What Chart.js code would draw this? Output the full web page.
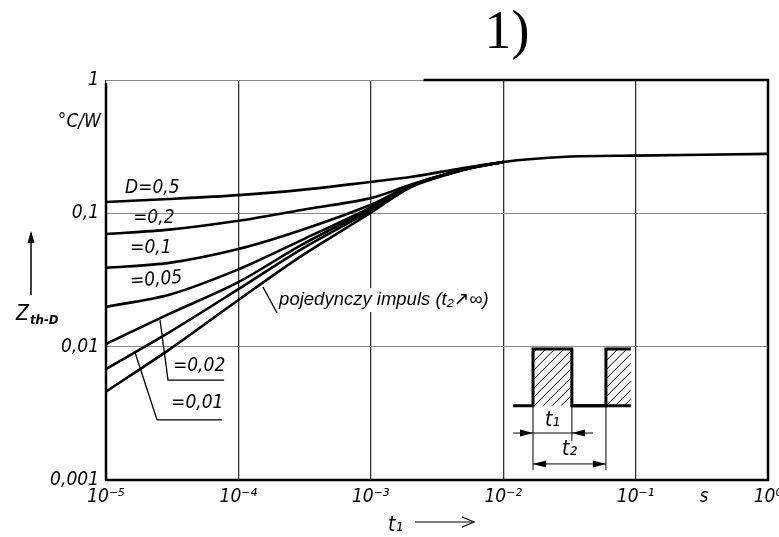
<!DOCTYPE html>
<html>
<head>
<meta charset="utf-8">
<script src="https://cdn.jsdelivr.net/npm/chart.js@4"></script>
<style>
  html, body { margin: 0; padding: 0; background: #fff; }
  #wrap { width: 779px; height: 537px; }
</style>
</head>
<body>
<div id="wrap"><canvas id="zthChart" width="779" height="537"></canvas></div>
<script>
// Czasy impulsu t1 [s]
var tPoints = [1e-5, 3e-5, 1e-4, 3e-4, 1e-3, 2e-3, 5e-3, 1e-2, 3e-2, 1e-1, 1]

// Zth-D [°C/W]
var zSingle = [0.0046, 0.0095, 0.0224, 0.048, 0.101, 0.157, 0.211, 0.243, 0.266, 0.271, 0.279]
var zD001 = [0.0068, 0.0128, 0.027, 0.054, 0.105, 0.159, 0.212, 0.243]
var zD002 = [0.0105, 0.0176, 0.0305, 0.058, 0.108, 0.160, 0.212, 0.243]
var zD005 = [0.0199, 0.0245, 0.038, 0.063, 0.111, 0.161, 0.213, 0.243]
var zD01 = [0.039, 0.0425, 0.054, 0.075, 0.116, 0.162, 0.213, 0.243]
var zD02 = [0.070, 0.0755, 0.088, 0.106, 0.130, 0.164, 0.214, 0.243]
var zD05 = [0.1216, 0.128, 0.137, 0.150, 0.172, 0.187, 0.219, 0.243]

var xTicks = [1e-5, 1e-4, 1e-3, 1e-2, 1e-1, 1]
var xTickLabels = ['10⁻⁵', '10⁻⁴', '10⁻³', '10⁻²', '10⁻¹', '10⁰']
var yTicks = [0.001, 0.01, 0.1, 1]
var yTickLabels = ['0,001', '0,01', '0,1', '1']

var curves = [zSingle, zD001, zD002, zD005, zD01, zD02, zD05]

function toPoints(vals){
  return vals.map((v, i) => ({x: tPoints[i], y: v}))
}

var tickFont = {family: '"DejaVu Sans Condensed", "Liberation Sans Narrow", sans-serif', size: 19, style: 'italic'}
var noteFont = 'italic 19px "DejaVu Sans Condensed", "Liberation Sans Narrow", sans-serif'

function arrowHead(ctx, x, y, dx, dy, len, wid){
  ctx.beginPath()
  ctx.moveTo(x, y)
  ctx.lineTo(x - dx*len - dy*wid, y - dy*len + dx*wid)
  ctx.lineTo(x - dx*len + dy*wid, y - dy*len - dx*wid)
  ctx.closePath()
  ctx.fill()
}

function line(ctx, pts){
  ctx.beginPath()
  ctx.moveTo(pts[0][0], pts[0][1])
  for (var i = 1; i < pts.length; i++) ctx.lineTo(pts[i][0], pts[i][1])
  ctx.stroke()
}

var decorPlugin = {
  id: 'decor',
  afterDatasetsDraw(chart){
    var ctx = chart.ctx
    var xs = chart.scales.x, ys = chart.scales.y
    var ca = chart.chartArea
    var X = v => xs.getPixelForValue(v)
    var Y = v => ys.getPixelForValue(v)
    ctx.save()
    ctx.strokeStyle = '#000'
    ctx.fillStyle = '#000'

    // Ramka
    ctx.lineWidth = 2.5
    line(ctx, [[ca.left, ca.top + 3], [ca.left, ca.bottom], [ca.right, ca.bottom], [ca.right, ca.top], [X(2.5e-3), ca.top]])

    // Opisy krzywych
    ctx.font = noteFont
    ctx.textBaseline = 'middle'
    ctx.textAlign = 'left'
    ctx.fillText('D=0,5', X(1.39e-5), Y(0.155))
    ctx.fillText('=0,2', X(1.6e-5), Y(0.092))
    ctx.fillText('=0,1', X(1.52e-5), Y(0.055))
    ctx.save()
    ctx.translate(X(1.52e-5), Y(0.0306))
    ctx.rotate(-0.08)
    ctx.fillText('=0,05', 0, 0)
    ctx.restore()
    ctx.fillText('=0,02', X(3.2e-5), Y(0.0072))
    ctx.fillText('=0,01', X(3.1e-5), Y(0.0038))

    ctx.lineWidth = 1.3
    line(ctx, [[X(2.56e-5), Y(0.0158)], [X(2.94e-5), Y(0.00562)], [X(7.8e-5), Y(0.00562)]])
    line(ctx, [[X(1.66e-5), Y(0.009)], [X(2.43e-5), Y(0.00282)], [X(7.5e-5), Y(0.00282)]])
    line(ctx, [[X(1.53e-4), Y(0.0281)], [X(1.96e-4), Y(0.0179)]])

    // pojedynczy impuls
    ctx.font = 'italic 18.5px "Liberation Sans", "DejaVu Sans", sans-serif'
    var txt = 'pojedynczy impuls (t₂↗∞)'
    var w = ctx.measureText(txt).width
    ctx.fillStyle = '#fff'
    ctx.fillRect(X(2.03e-4) - 2, Y(0.0224) - 12, w + 4, 24)
    ctx.fillStyle = '#000'
    ctx.fillText(txt, X(2.03e-4), Y(0.0224))

    // Wstawka z impulsami
    var base = Y(0.0036), top = Y(0.0096)
    var p1a = X(0.0168), p1b = X(0.033), p2a = X(0.0597), p2b = X(0.092)
    ctx.save()
    ctx.beginPath()
    ctx.rect(p1a, top, p1b - p1a, base - top)
    ctx.rect(p2a, top, p2b - p2a, base - top)
    ctx.clip()
    ctx.lineWidth = 1
    for (var i = -80; i < 160; i += 9){
      line(ctx, [[p1a + i, base], [p1a + i + (base - top), top]])
    }
    ctx.restore()
    ctx.lineWidth = 3
    line(ctx, [[X(0.0119), base], [p1a, base], [p1a, top], [p1b, top], [p1b, base], [p2a, base], [p2a, top], [p2b, top]])
    line(ctx, [[p1b, base], [p2b, base]])

    ctx.lineWidth = 1
    var d1 = Y(0.00225), d2 = Y(0.00132)
    line(ctx, [[p1a, base], [p1a, d2 + 6]])
    line(ctx, [[p1b, base], [p1b, d1 + 8]])
    line(ctx, [[p2a, base], [p2a, d2 + 6]])
    line(ctx, [[X(0.0119), d1], [X(0.0477), d1]])
    line(ctx, [[p1a, d2], [p2a, d2]])
    arrowHead(ctx, p1a, d1, 1, 0, 13, 3.5)
    arrowHead(ctx, p1b, d1, -1, 0, 13, 3.5)
    arrowHead(ctx, p1a, d2, -1, 0, 13, 3.5)
    arrowHead(ctx, p2a, d2, 1, 0, 13, 3.5)
    ctx.font = 'italic 21px "DejaVu Sans Condensed", sans-serif'
    ctx.textAlign = 'center'
    ctx.fillText('t₁', (p1a + p1b)/2, (base + d1)/2 + 1)
    ctx.fillText('t₂', (p1a + p2a)/2, (d1 + d2)/2 + 1)

    // Jednostka osi Y
    ctx.font = noteFont
    ctx.textAlign = 'right'
    ctx.fillText('°C/W', ca.left - 5, Y(0.485))

    // Oś Y: Zth-D ze strzałką
    ctx.textAlign = 'left'
    ctx.font = 'italic 21px "DejaVu Sans Condensed", sans-serif'
    ctx.fillText('Z', 16, Y(0.0173))
    ctx.font = 'italic bold 13px "DejaVu Sans Condensed", sans-serif'
    ctx.fillText('th-D', 30, Y(0.0173) + 6)
    ctx.lineWidth = 1.5
    line(ctx, [[31, Y(0.0244)], [31, Y(0.0713)]])
    arrowHead(ctx, 31, Y(0.0713) - 2, 0, -1, 12, 3.5)

    // Oś X: s, t1 ->
    ctx.font = noteFont
    ctx.textAlign = 'center'
    ctx.fillText('s', X(0.329), ca.bottom + 17)
    ctx.textAlign = 'left'
    ctx.font = 'italic 21px "DejaVu Sans Condensed", sans-serif'
    var tx = X(1.35e-3)
    ctx.fillText('t₁', tx, ca.bottom + 46)
    ctx.lineWidth = 1.2
    line(ctx, [[tx + 27, ca.bottom + 42], [tx + 86, ca.bottom + 42]])
    line(ctx, [[tx + 74, ca.bottom + 37], [tx + 86, ca.bottom + 42], [tx + 74, ca.bottom + 47]])

    // Tytuł
    ctx.font = '54px "Liberation Serif", "DejaVu Serif", serif'
    ctx.textAlign = 'center'
    ctx.fillText('1)', X(0.0107), 34)
    ctx.restore()
  }
}

var datasets = curves.map((c) => ({
  data: toPoints(c),
  borderColor: '#000',
  borderWidth: 2.6,
  pointRadius: 0,
  fill: false,
  tension: 0.3
}))

var zthChart = new Chart(document.getElementById('zthChart'), {
  type: 'line',
  data: { datasets: datasets },
  options: {
    responsive: false,
    animation: false,
    layout: { padding: { top: 80, right: 11, left: 0, bottom: 0 } },
    plugins: {
      legend: { display: false },
      tooltip: { enabled: false },
      title: { display: false }
    },
    scales: {
      x: {
        type: 'logarithmic',
        min: 1e-5,
        max: 1,
        afterBuildTicks: (s) => { s.ticks = xTicks.map(v => ({value: v})) },
        afterFit: (s) => { s.height = 57; s.paddingLeft = 0; s.paddingRight = 0 },
        grid: { color: '#333', lineWidth: 1.3, drawTicks: false },
        border: { display: false },
        ticks: {
          color: '#000',
          font: tickFont,
          padding: 6,
          maxRotation: 0,
          autoSkip: false,
          callback: (v) => xTickLabels[xTicks.indexOf(v)]
        }
      },
      y: {
        type: 'logarithmic',
        min: 0.001,
        max: 1,
        afterBuildTicks: (s) => { s.ticks = yTicks.map(v => ({value: v})) },
        afterFit: (s) => { s.width = 106; s.paddingTop = 0; s.paddingBottom = 0 },
        grid: { color: '#8a8a8a', lineWidth: 1, drawTicks: false },
        border: { display: false },
        ticks: {
          color: '#000',
          font: tickFont,
          padding: 7,
          autoSkip: false,
          callback: (v) => yTickLabels[yTicks.indexOf(v)]
        }
      }
    }
  },
  plugins: [decorPlugin]
})
</script>
</body>
</html>
